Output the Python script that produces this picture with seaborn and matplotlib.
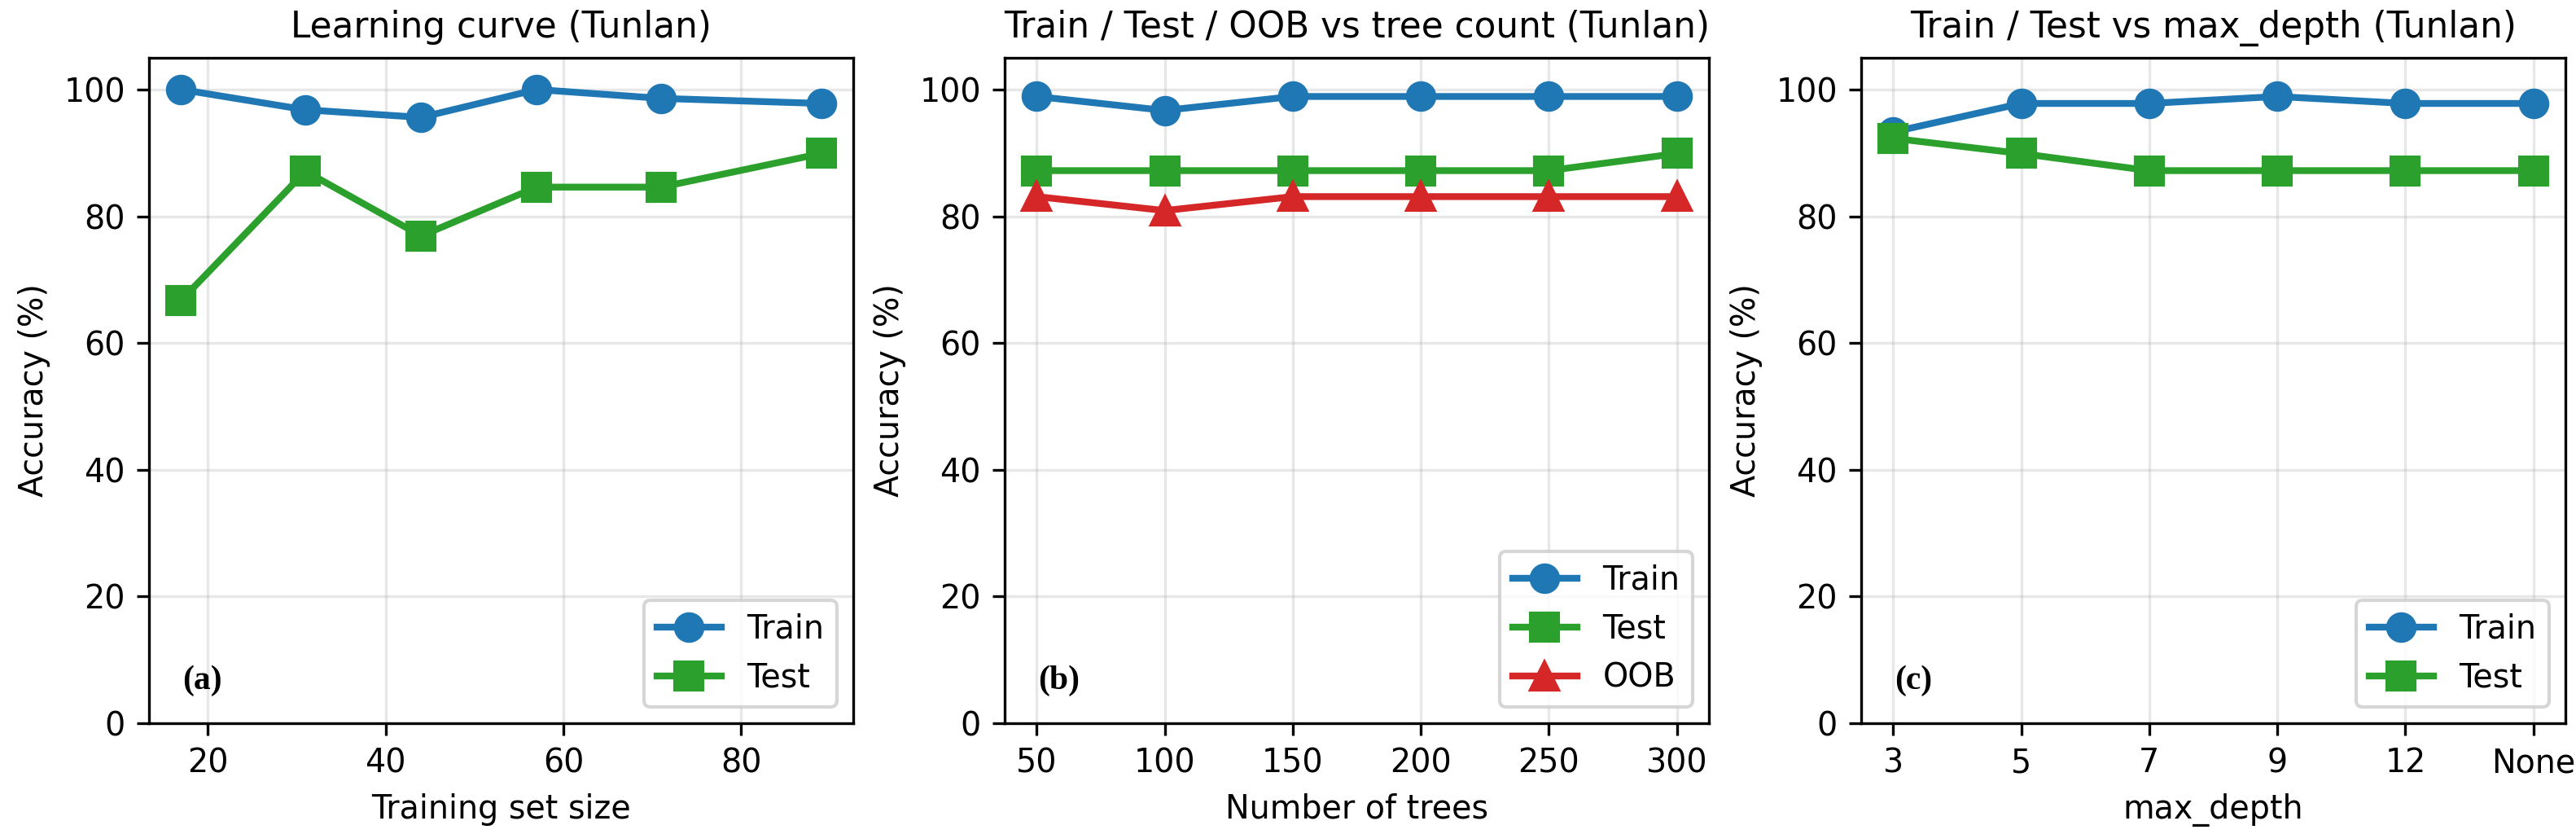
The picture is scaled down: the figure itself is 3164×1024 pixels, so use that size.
import numpy as np
import matplotlib
matplotlib.use("Agg")
import matplotlib.pyplot as plt
import seaborn as sns

# ---- data ----
train_sizes = [17, 31, 44, 57, 71, 89]
lc_train = [100.0, 96.8, 95.6, 100.0, 98.6, 97.8]
lc_test = [66.7, 87.1, 76.9, 84.6, 84.6, 89.9]

n_trees = [50, 100, 150, 200, 250, 300]
nt_train = [98.9, 96.7, 98.9, 98.9, 98.9, 98.9]
nt_test = [87.2, 87.2, 87.2, 87.2, 87.2, 89.9]
nt_oob = [83.1, 80.9, 83.1, 83.1, 83.1, 83.1]

depth_labels = ["3", "5", "7", "9", "12", "None"]
md_train = [93.3, 97.8, 97.8, 98.9, 97.8, 97.8]
md_test = [92.3, 89.9, 87.2, 87.2, 87.2, 87.2]

titles = ["Learning curve (Tunlan)",
          "Train / Test / OOB vs tree count (Tunlan)",
          "Train / Test vs max_depth (Tunlan)"]
xlabels = ["Training set size", "Number of trees", "max_depth"]
panel_tags = ["(a)", "(b)", "(c)"]

C_TRAIN = "#1f77b4"
C_TEST = "#2ca02c"
C_OOB = "#d62728"

plt.rcParams["font.family"] = ["DejaVu Sans"]
plt.rcParams["xtick.labelsize"] = 9.5
plt.rcParams["ytick.labelsize"] = 9.5
plt.rcParams["axes.labelsize"] = 9.5
plt.rcParams["axes.titlesize"] = 10.5
plt.rcParams["legend.fontsize"] = 9.5

DPI = 300
fig = plt.figure(figsize=(3164 / DPI, 1024 / DPI), dpi=DPI)
W = 865 / 3164
B = 1 - 888 / 1024
H = (888 - 71) / 1024
lefts = [183 / 3164, 1234 / 3164, 2286 / 3164]
axes = [fig.add_axes([l, B, W, H]) for l in lefts]


def draw(ax, x, y, color, marker, label):
    sns.lineplot(x=x, y=y, ax=ax, color=color, marker=marker, markersize=8,
                 linewidth=2, markeredgecolor=color, markeredgewidth=1,
                 label=label)


# (a)
ax = axes[0]
draw(ax, train_sizes, lc_train, C_TRAIN, "o", "Train")
draw(ax, train_sizes, lc_test, C_TEST, "s", "Test")

# (b)
ax = axes[1]
draw(ax, n_trees, nt_train, C_TRAIN, "o", "Train")
draw(ax, n_trees, nt_test, C_TEST, "s", "Test")
draw(ax, n_trees, nt_oob, C_OOB, "^", "OOB")
ax.set_xticks(n_trees)

# (c)
ax = axes[2]
pos = np.arange(len(depth_labels))
draw(ax, pos, md_train, C_TRAIN, "o", "Train")
draw(ax, pos, md_test, C_TEST, "s", "Test")
ax.set_xticks(pos)
ax.set_xticklabels(depth_labels)

for ax, t, xl, tag in zip(axes, titles, xlabels, panel_tags):
    ax.set_ylim(0, 105)
    ax.set_yticks([0, 20, 40, 60, 80, 100])
    ax.set_title(t)
    ax.set_xlabel(xl)
    ax.set_ylabel("Accuracy (%)")
    ax.grid(True, alpha=0.3)
    ax.legend(loc="lower right")
    ax.text(0.047, 0.064, tag, transform=ax.transAxes, ha="left", va="center",
            fontsize=10, fontweight="bold", family=["Liberation Serif", "DejaVu Serif"])

fig.savefig("out.png", dpi=DPI)
